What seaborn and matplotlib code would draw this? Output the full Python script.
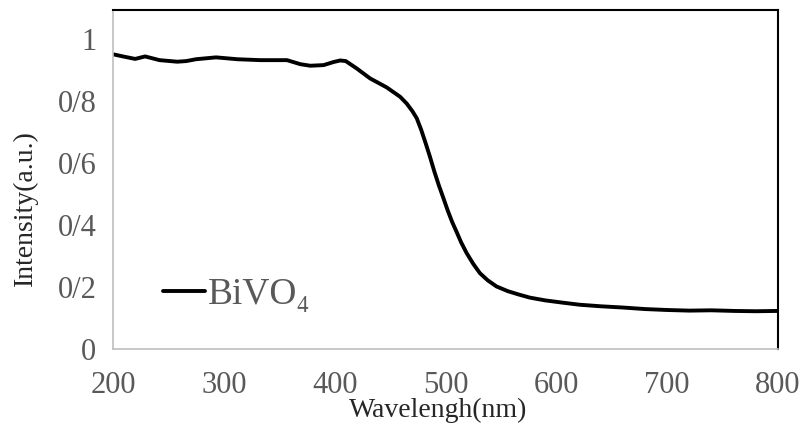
import pandas as pd
import seaborn as sns
import matplotlib.pyplot as plt

# --- Data ---
wavelength = [200, 209, 220, 229, 242, 258, 266, 275, 293, 312, 333, 357, 369,
              378, 390, 399, 405, 410, 420, 432, 447, 459, 465, 470, 474, 478,
              482, 486, 490, 494, 498, 502, 506, 510, 514, 519, 525, 531, 538,
              546, 556, 566, 576, 590, 605, 621, 640, 660, 680, 700, 720, 740,
              760, 780, 800]
intensity = [0.951, 0.944, 0.936, 0.944, 0.932, 0.927, 0.929, 0.935, 0.941, 0.935,
             0.932, 0.932, 0.919, 0.914, 0.916, 0.926, 0.931, 0.929, 0.905, 0.873,
             0.844, 0.814, 0.792, 0.768, 0.745, 0.708, 0.665, 0.620, 0.572, 0.528,
             0.488, 0.447, 0.410, 0.378, 0.345, 0.310, 0.275, 0.245, 0.222, 0.202,
             0.187, 0.176, 0.166, 0.157, 0.150, 0.143, 0.138, 0.134, 0.129, 0.126,
             0.124, 0.125, 0.123, 0.122, 0.123]
xticks = [200, 300, 400, 500, 600, 700, 800]
yticks = [0, 0.2, 0.4, 0.6, 0.8, 1.0]
ytick_labels = ["0", "0/2", "0/4", "0/6", "0/8", "1"]

df = pd.DataFrame({"Wavelength": wavelength, "Intensity": intensity})

sns.set_style("white")
plt.rcParams['font.family'] = ['Liberation Serif', 'DejaVu Serif']

fig = plt.figure(figsize=(8.03, 4.32), dpi=100)
ax = fig.add_axes([0.1407, 0.192, 0.8282, 0.785])

sns.lineplot(data=df, x="Wavelength", y="Intensity", ax=ax, color="black",
             linewidth=2.8, label="BiVO\u2084")

ax.set_xlim(200, 800)
ax.set_ylim(0, 1.094)
ax.set_xticks(xticks)
ax.set_yticks(yticks)
ax.set_yticklabels(ytick_labels)
ax.tick_params(axis='both', length=0, labelsize=22, labelcolor="#595959")
ax.tick_params(axis='x', pad=16)
ax.tick_params(axis='y', pad=12)

ax.set_xlabel("Wavelengh(nm)", fontsize=20)
ax.xaxis.set_label_coords(0.489, -0.18)
ax.xaxis.label.set_va('center')
ax.set_ylabel("Intensity(a.u.)", fontsize=20)
ax.yaxis.set_label_coords(-0.132, 0.416)
ax.yaxis.label.set_va('center')

for side in ['left', 'bottom']:
    ax.spines[side].set_color("#bfbfbf")
    ax.spines[side].set_linewidth(1.2)
for side in ['top', 'right']:
    ax.spines[side].set_color("black")
    ax.spines[side].set_linewidth(1.5)

leg = ax.legend(loc="lower left", bbox_to_anchor=(0.075, 0.109), frameon=False,
                fontsize=27, handlelength=1.12, handletextpad=0.08,
                borderpad=0, borderaxespad=0)
for t in leg.get_texts():
    t.set_color("#595959")

fig.savefig("out.png", dpi=100)
